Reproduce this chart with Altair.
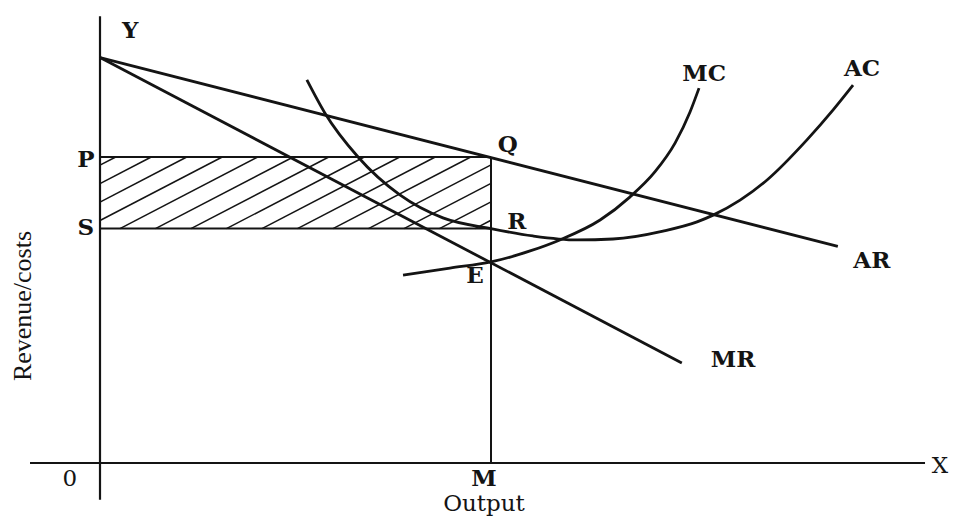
import altair as alt
import pandas as pd

# ---- data (economic units: output on x, revenue/costs on y) ----
X_DOMAIN = [-2.353, 21.969]
Y_DOMAIN = [-1.895, 14.869]

ar_x = [0.0, 18.87]
ar_y = [13.25, 7.08]
mr_x = [0.0, 14.88]
mr_y = [13.25, 3.27]

ac_x = [5.29, 5.75, 6.60, 7.67, 8.77, 10.00, 11.07, 12.20, 13.12, 14.40, 15.27, 15.68, 16.37, 17.06, 18.08, 18.75, 19.26]
ac_y = [12.52, 11.44, 10.00, 8.76, 8.01, 7.66, 7.42, 7.29, 7.32, 7.58, 7.88, 8.10, 8.59, 9.25, 10.56, 11.54, 12.35]

mc_x = [7.75, 8.95, 10.00, 11.00, 11.76, 12.79, 13.55, 14.19, 14.71, 15.09, 15.32]
mc_y = [6.14, 6.37, 6.57, 6.93, 7.29, 7.94, 8.69, 9.51, 10.46, 11.47, 12.25]

output_m = 10.0      # M
price_p = 10.0       # P (= Q height)
cost_s = 7.66        # S (= R height)

y_axis = [-1.2, 14.6]
x_axis = [-1.79, 21.1]

label_text = ["Y", "P", "S", "Q", "R", "E", "MC", "AC", "AR", "MR", "M"]
label_x = [0.77, -0.36, -0.36, 10.43, 10.66, 9.59, 15.45, 19.49, 19.74, 16.19, 9.82]
label_y = [14.12, 9.90, 7.68, 10.39, 7.88, 6.11, 12.71, 12.88, 6.60, 3.37, -0.52]

plain_text = ["0", "X", "Output"]
plain_x = [-0.77, 21.48, 9.82]
plain_y = [-0.52, -0.10, -1.34]

ytitle = "Revenue/costs"
ytitle_x = -1.97
ytitle_y = 5.13

# ---- build tables ----
curves = pd.concat([
    pd.DataFrame({"curve": "AR", "x": ar_x, "y": ar_y}),
    pd.DataFrame({"curve": "MR", "x": mr_x, "y": mr_y}),
    pd.DataFrame({"curve": "AC", "x": ac_x, "y": ac_y}),
    pd.DataFrame({"curve": "MC", "x": mc_x, "y": mc_y}),
])

axes_df = pd.DataFrame({
    "x": [0.0, x_axis[0]], "x2": [0.0, x_axis[1]],
    "y": [y_axis[0], 0.0], "y2": [y_axis[1], 0.0],
})

guides_df = pd.DataFrame({
    "x": [0.0, 0.0, output_m], "x2": [output_m, output_m, output_m],
    "y": [price_p, cost_s, 0.0], "y2": [price_p, cost_s, price_p],
})

# hatching of the profit rectangle P-Q-R-S
slope = 0.664
step = 0.908
first = 0.51
h = (price_p - cost_s) / slope
segs = []
b = first
while b - step + h >= 0:
    b -= step
while b <= output_m:
    xs = max(0.0, b)
    xe = min(output_m, b + h)
    if xe > xs:
        segs.append({"x": xs, "y": cost_s + slope * (xs - b),
                     "x2": xe, "y2": cost_s + slope * (xe - b)})
    b += step
hatch_df = pd.DataFrame(segs)

labels_df = pd.DataFrame({"t": label_text, "x": label_x, "y": label_y})
plain_df = pd.DataFrame({"t": plain_text, "x": plain_x, "y": plain_y})
title_df = pd.DataFrame({"t": [ytitle], "x": [ytitle_x], "y": [ytitle_y]})

xs_ = lambda f="x": alt.X(f"{f}:Q", scale=alt.Scale(domain=X_DOMAIN, nice=False, zero=False), axis=None)
ys_ = lambda f="y": alt.Y(f"{f}:Q", scale=alt.Scale(domain=Y_DOMAIN, nice=False, zero=False), axis=None)

INK = "#141414"
WIDE = "DejaVu Serif"
NARROW = "Liberation Serif"

hatch = alt.Chart(hatch_df).mark_rule(color=INK, strokeWidth=1.5).encode(
    x=xs_(), y=ys_(), x2="x2:Q", y2="y2:Q")
guides = alt.Chart(guides_df).mark_rule(color=INK, strokeWidth=2).encode(
    x=xs_(), y=ys_(), x2="x2:Q", y2="y2:Q")
axes = alt.Chart(axes_df).mark_rule(color=INK, strokeWidth=2.2).encode(
    x=xs_(), y=ys_(), x2="x2:Q", y2="y2:Q")
lines = alt.Chart(curves).mark_line(color=INK, strokeWidth=2.8, interpolate="monotone").encode(
    x=xs_(), y=ys_(), detail="curve:N")
labels = alt.Chart(labels_df).mark_text(font=WIDE, fontSize=23, fontWeight="bold", color=INK).encode(
    x=xs_(), y=ys_(), text="t:N")
plain = alt.Chart(plain_df).mark_text(font=WIDE, fontSize=23, color=INK).encode(
    x=xs_(), y=ys_(), text="t:N")
ytitle_mark = alt.Chart(title_df).mark_text(font=NARROW, fontSize=26, color=INK, angle=270).encode(
    x=xs_(), y=ys_(), text="t:N")

chart = alt.layer(hatch, guides, axes, lines, labels, plain, ytitle_mark).properties(
    width=951, height=513, padding=0, autosize=alt.AutoSizeParams(type="none")
).configure_view(stroke=None)

chart.save("out.html", embed_options={"renderer": "svg", "actions": False})
